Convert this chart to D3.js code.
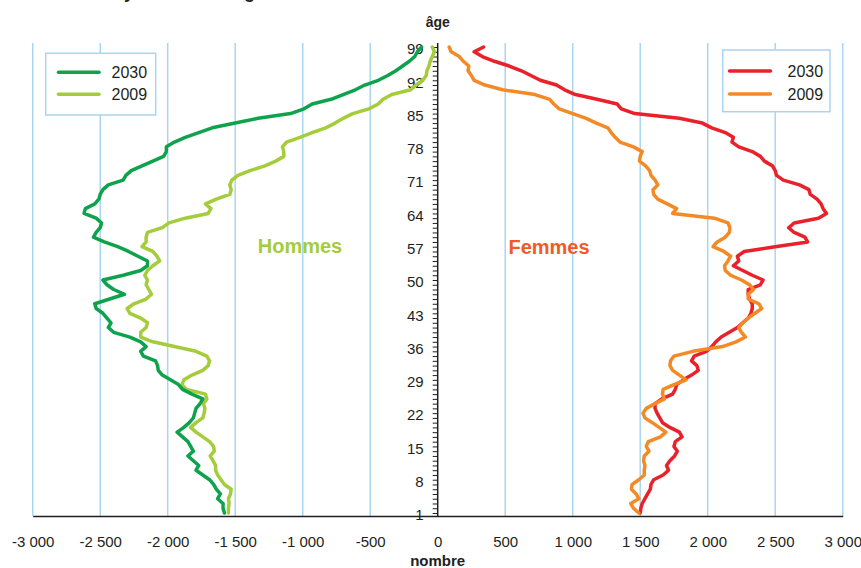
<!DOCTYPE html>
<html><head><meta charset="utf-8">
<script src="https://cdn.jsdelivr.net/npm/d3@7"></script>
<style>
html,body{margin:0;padding:0;background:#fff;}
svg{display:block;}
text{font-family:"Liberation Sans",Arial,sans-serif;fill:#231f20;}
</style></head>
<body>
<svg id="chart" width="861" height="568"></svg>
<script>
// ---- DATA ----
const ages = [1,2,3,4,5,6,7,8,9,10,11,12,13,14,15,16,17,18,19,20,21,22,23,24,25,26,27,28,29,30,31,32,33,34,35,36,37,38,39,40,41,42,43,44,45,46,47,48,49,50,51,52,53,54,55,56,57,58,59,60,61,62,63,64,65,66,67,68,69,70,71,72,73,74,75,76,77,78,79,80,81,82,83,84,85,86,87,88,89,90,91,92,93,94,95,96,97,98,99];

const hommes2030 = [-1580,-1590,-1590,-1630,-1610,-1640,-1660,-1690,-1740,-1790,-1770,-1810,-1850,-1810,-1830,-1850,-1890,-1930,-1880,-1840,-1810,-1800,-1790,-1760,-1740,-1820,-1890,-1920,-1980,-2040,-2070,-2075,-2090,-2180,-2200,-2160,-2200,-2280,-2400,-2440,-2420,-2450,-2480,-2530,-2540,-2430,-2320,-2400,-2450,-2480,-2330,-2200,-2150,-2150,-2220,-2290,-2370,-2470,-2550,-2530,-2500,-2490,-2530,-2620,-2610,-2540,-2510,-2500,-2480,-2440,-2330,-2310,-2270,-2190,-2110,-2030,-2010,-2010,-1950,-1870,-1770,-1670,-1500,-1330,-1090,-990,-930,-790,-700,-610,-540,-440,-370,-310,-260,-210,-170,-150,-120];

const hommes2009 = [-1550,-1550,-1545,-1550,-1535,-1530,-1580,-1605,-1630,-1645,-1645,-1665,-1685,-1655,-1660,-1690,-1740,-1790,-1830,-1790,-1740,-1730,-1725,-1735,-1710,-1720,-1860,-1895,-1880,-1820,-1740,-1700,-1690,-1710,-1790,-1950,-2110,-2200,-2200,-2160,-2150,-2200,-2280,-2300,-2250,-2160,-2120,-2140,-2160,-2150,-2170,-2150,-2110,-2060,-2080,-2110,-2190,-2160,-2160,-2150,-2040,-1990,-1870,-1700,-1680,-1720,-1640,-1540,-1530,-1540,-1525,-1480,-1390,-1280,-1200,-1140,-1140,-1150,-1120,-1020,-930,-830,-760,-700,-630,-510,-440,-405,-340,-200,-160,-110,-85,-80,-65,-55,-40,-25,-40];

const femmes2030 = [1500,1505,1515,1535,1555,1575,1580,1600,1670,1710,1695,1720,1755,1775,1750,1760,1810,1790,1720,1665,1645,1625,1610,1610,1660,1740,1760,1770,1820,1880,1930,1920,1880,1900,1990,2030,2060,2100,2160,2220,2260,2300,2320,2330,2330,2310,2300,2300,2390,2410,2330,2260,2190,2230,2220,2270,2500,2740,2720,2640,2600,2640,2820,2880,2855,2840,2810,2760,2750,2680,2560,2510,2500,2480,2420,2390,2330,2230,2180,2190,2130,2030,1960,1790,1460,1360,1330,1180,1020,940,880,760,690,620,530,420,330,270,340];

const femmes2009 = [1490,1450,1430,1490,1470,1435,1440,1490,1530,1530,1535,1525,1530,1565,1545,1560,1650,1690,1640,1590,1535,1520,1545,1610,1680,1665,1670,1750,1840,1790,1740,1720,1725,1750,1890,2110,2210,2280,2250,2230,2260,2300,2350,2400,2380,2300,2300,2340,2310,2250,2170,2130,2125,2150,2170,2120,2040,2070,2130,2160,2165,2150,2050,1740,1770,1700,1630,1600,1595,1630,1610,1580,1570,1540,1495,1500,1515,1450,1350,1315,1285,1260,1175,1100,1000,900,860,830,720,480,350,270,250,225,230,190,160,100,85];

const ageTickLabels = [1,8,15,22,29,36,43,50,57,64,71,78,85,92,99];
const xTickValues = [-3000,-2500,-2000,-1500,-1000,-500,0,500,1000,1500,2000,2500,3000];
const legendHommes = ["2030","2009"];
const legendFemmes = ["2030","2009"];

// ---- LAYOUT ----
const svg = d3.select("#chart");
const x = d3.scaleLinear().domain([-3000,3000]).range([32.7,842.7]);
const y = d3.scaleLinear().domain([1,99]).range([513,47]);
const plotTop = 43, plotBottom = 516;
const gridColor = "#a9d5f0";
const colors = {h2030:"#0ea24c", h2009:"#a5cc3b", f2030:"#e8212b", f2009:"#f48a26"};

const fr = d3.formatLocale({decimal:",", thousands:" ", grouping:[3], currency:["","€"], minus:"-"});
const fmt = fr.format(",d");

// title fragment (cut off at top, as in the reference)
svg.append("text").attr("x",112).attr("y",-2).attr("font-size",18).attr("font-weight","bold")
  .text("Pyramide des âges");

// grid lines
svg.append("g").selectAll("line").data(xTickValues.filter(d=>d!==0)).join("line")
  .attr("x1",d=>x(d)).attr("x2",d=>x(d)).attr("y1",plotTop).attr("y2",plotBottom)
  .attr("stroke",gridColor).attr("stroke-width",1.5);

// x axis (bottom)
const xAxis = d3.axisBottom(x).tickValues(xTickValues).tickFormat(fmt).tickSize(0).tickPadding(20);
const gx = svg.append("g").attr("transform",`translate(0,${plotBottom})`).call(xAxis);
gx.select(".domain").attr("stroke","#231f20").attr("stroke-width",1.5);
gx.selectAll("text").attr("font-size",15).attr("font-family","Liberation Sans, Arial, sans-serif").attr("fill","#231f20");

// center age axis
const yAxis = d3.axisLeft(y).tickValues(ages).tickSize(5).tickFormat(d=>ageTickLabels.includes(d)?d:"").tickPadding(9);
const gy = svg.append("g").attr("transform",`translate(${x(0)},0)`).call(yAxis);
gy.select(".domain").attr("d",`M0,${plotTop}V${plotBottom}`).attr("stroke","#231f20").attr("stroke-width",1.5);
gy.selectAll(".tick line").attr("stroke","#231f20").attr("stroke-width",1);
gy.selectAll("text").attr("font-size",15).attr("font-family","Liberation Sans, Arial, sans-serif").attr("fill","#231f20").attr("dy","0.45em");

// series lines
const line = d3.line().x(d=>x(d[1])).y(d=>y(d[0]));
const series = [
  {vals:hommes2009, color:colors.h2009},
  {vals:hommes2030, color:colors.h2030},
  {vals:femmes2030, color:colors.f2030},
  {vals:femmes2009, color:colors.f2009}
];
svg.append("g").selectAll("path").data(series).join("path")
  .attr("d",s=>line(ages.map((a,i)=>[a,s.vals[i]])))
  .attr("fill","none").attr("stroke",s=>s.color).attr("stroke-width",3.5)
  .attr("stroke-linejoin","round").attr("stroke-linecap","round");

// axis titles
svg.append("text").attr("x",x(0)).attr("y",27).attr("text-anchor","middle")
  .attr("font-size",14).attr("font-weight","bold").text("âge");
svg.append("text").attr("x",x(0)).attr("y",566).attr("text-anchor","middle")
  .attr("font-size",15).attr("font-weight","bold").text("nombre");

// inner labels
svg.append("text").attr("x",300).attr("y",253).attr("text-anchor","middle")
  .attr("font-size",20).attr("font-weight","bold").style("fill",colors.h2009).text("Hommes");
svg.append("text").attr("x",549).attr("y",254).attr("text-anchor","middle")
  .attr("font-size",20).attr("font-weight","bold").style("fill","#f05a2a").text("Femmes");

// legends
function legend(x0,y0,w,h,labels,cols,lx1,lx2,tx,ys){
  const g = svg.append("g");
  g.append("rect").attr("x",x0).attr("y",y0).attr("width",w).attr("height",h)
    .attr("fill","#fff").attr("stroke",gridColor).attr("stroke-width",1.5);
  labels.forEach((lab,i)=>{
    g.append("line").attr("x1",lx1).attr("x2",lx2).attr("y1",ys[i]).attr("y2",ys[i])
      .attr("stroke",cols[i]).attr("stroke-width",3.5).attr("stroke-linecap","round");
    g.append("text").attr("x",tx).attr("y",ys[i]).attr("dy","0.36em").attr("font-size",16).text(lab);
  });
}
legend(45.7,53.3,110,61.7,legendHommes,[colors.h2030,colors.h2009],58.5,99,111.5,[72.3,94.3]);
legend(722.7,50,107.3,61.7,legendFemmes,[colors.f2030,colors.f2009],729.5,770.5,787.5,[71,94]);
</script>
</body></html>
